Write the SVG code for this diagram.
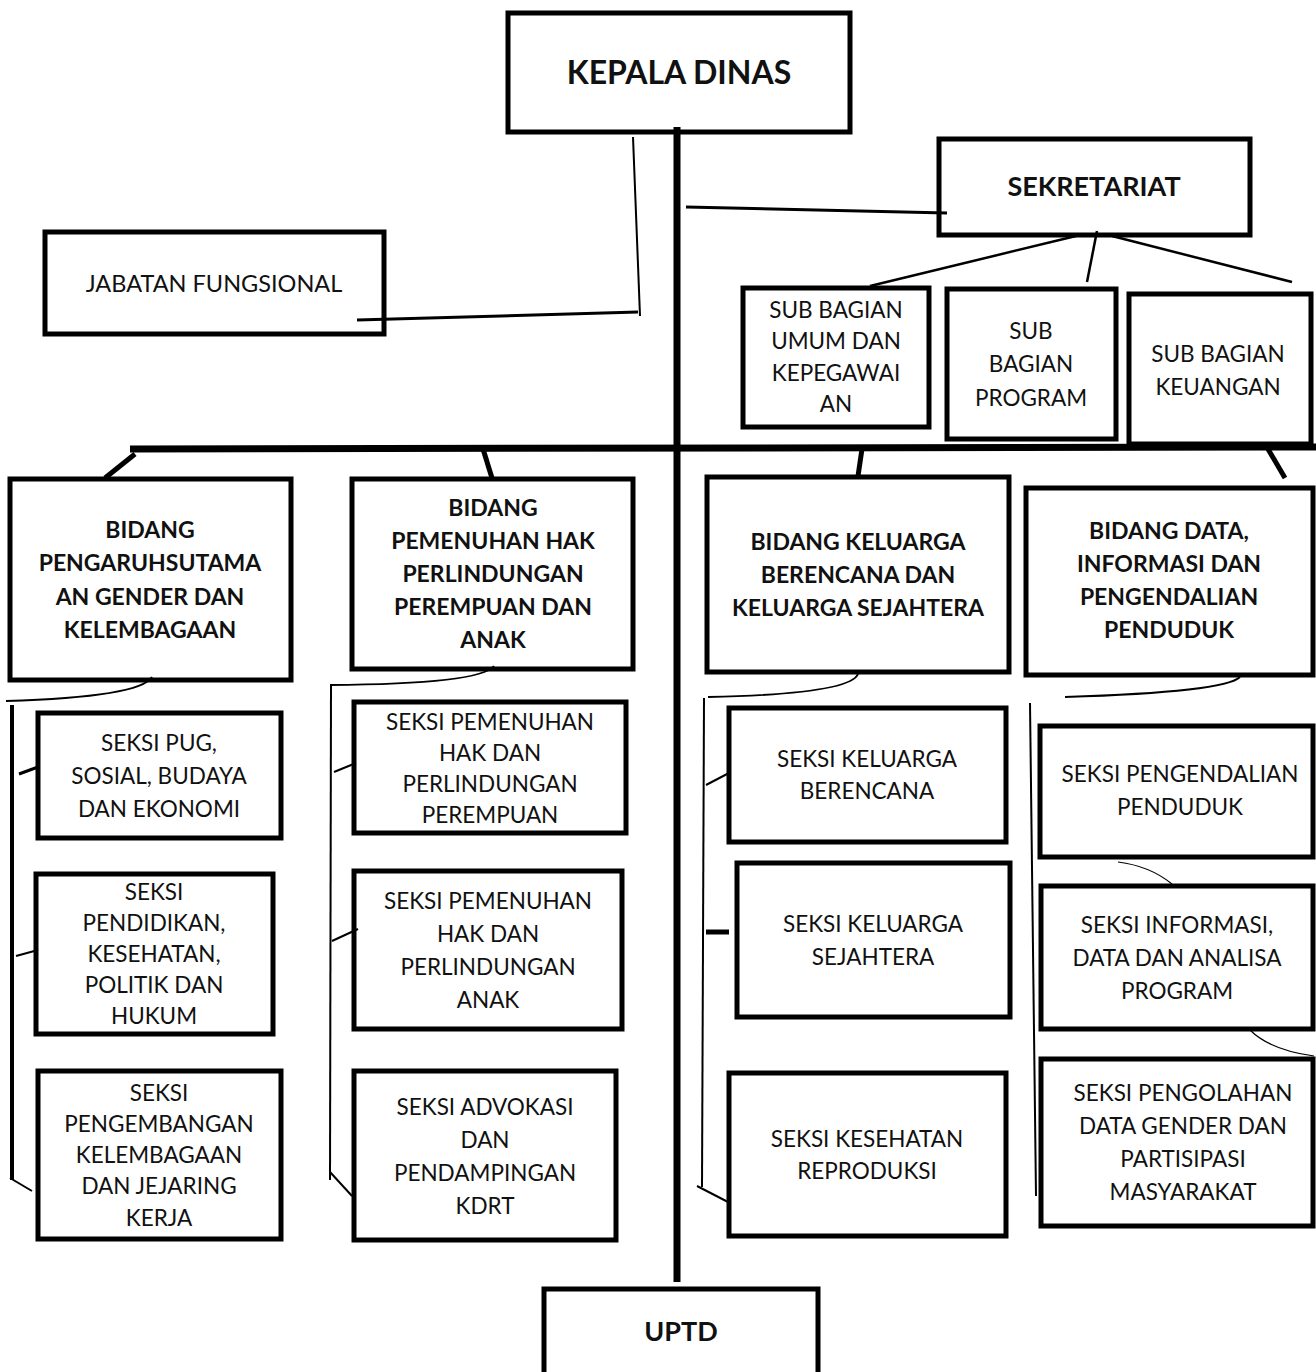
<svg xmlns="http://www.w3.org/2000/svg" width="1316" height="1372" viewBox="0 0 1316 1372">
<style>
.box{fill:#fff;stroke:#000;stroke-width:5}
.t{font-family:Lato,"Open Sans","Liberation Sans",sans-serif;font-size:22.5px;text-anchor:middle;fill:#111}
.b{font-weight:bold;font-size:23px}
.ln{stroke:#000;fill:none;stroke-linecap:butt}
</style>
<rect width="1316" height="1372" fill="#fff"/>
<g id="kepala"><rect class="box" x="508" y="13" width="342" height="119"/><text class="t b" x="679" y="84" style="font-size:32px">KEPALA DINAS</text></g>
<g id="sekretariat"><rect class="box" x="939" y="139" width="311" height="96"/><text class="t b" x="1094" y="196" style="font-size:27px">SEKRETARIAT</text></g>
<g id="jabfung"><rect class="box" x="45" y="232" width="339" height="102"/><text class="t" x="214" y="292" style="font-size:23.5px">JABATAN FUNGSIONAL</text></g>
<g id="sub-umum"><rect class="box" x="743" y="288" width="186" height="139"/>
<text class="t" x="836" y="318">SUB BAGIAN</text><text class="t" x="836" y="349">UMUM DAN</text><text class="t" x="836" y="381">KEPEGAWAI</text><text class="t" x="836" y="412">AN</text></g>
<g id="sub-program"><rect class="box" x="947" y="289" width="169" height="150"/>
<text class="t" x="1031" y="339">SUB</text><text class="t" x="1031" y="372">BAGIAN</text><text class="t" x="1031" y="406">PROGRAM</text></g>
<g id="sub-keuangan"><rect class="box" x="1129" y="294" width="182" height="150"/>
<text class="t" x="1218" y="362">SUB BAGIAN</text><text class="t" x="1218" y="395">KEUANGAN</text></g>
<g id="bidang-pug"><rect class="box" x="10" y="479" width="281" height="201"/>
<text class="t b" x="150" y="538">BIDANG</text><text class="t b" x="150" y="571">PENGARUHSUTAMA</text><text class="t b" x="150" y="605">AN GENDER DAN</text><text class="t b" x="150" y="638">KELEMBAGAAN</text></g>
<g id="bidang-php"><rect class="box" x="352" y="479" width="281" height="190"/>
<text class="t b" x="493" y="516">BIDANG</text><text class="t b" x="493" y="549">PEMENUHAN HAK</text><text class="t b" x="493" y="582">PERLINDUNGAN</text><text class="t b" x="493" y="615">PEREMPUAN DAN</text><text class="t b" x="493" y="648">ANAK</text></g>
<g id="bidang-kb"><rect class="box" x="707" y="477" width="302" height="195"/>
<text class="t b" x="858" y="550">BIDANG KELUARGA</text><text class="t b" x="858" y="583">BERENCANA DAN</text><text class="t b" x="858" y="616">KELUARGA SEJAHTERA</text></g>
<g id="bidang-data"><rect class="box" x="1026" y="488" width="287" height="187"/>
<text class="t b" x="1169" y="539">BIDANG DATA,</text><text class="t b" x="1169" y="572">INFORMASI DAN</text><text class="t b" x="1169" y="605">PENGENDALIAN</text><text class="t b" x="1169" y="638">PENDUDUK</text></g>
<g id="seksi-pug"><rect class="box" x="38" y="713" width="243" height="125"/>
<text class="t" x="159" y="751">SEKSI PUG,</text><text class="t" x="159" y="784">SOSIAL, BUDAYA</text><text class="t" x="159" y="817">DAN EKONOMI</text></g>
<g id="seksi-pendidikan"><rect class="box" x="36" y="874" width="237" height="160"/>
<text class="t" x="154" y="900">SEKSI</text><text class="t" x="154" y="931">PENDIDIKAN,</text><text class="t" x="154" y="962">KESEHATAN,</text><text class="t" x="154" y="993">POLITIK DAN</text><text class="t" x="154" y="1024">HUKUM</text></g>
<g id="seksi-pengembangan"><rect class="box" x="38" y="1071" width="243" height="168"/>
<text class="t" x="159" y="1101">SEKSI</text><text class="t" x="159" y="1132">PENGEMBANGAN</text><text class="t" x="159" y="1163">KELEMBAGAAN</text><text class="t" x="159" y="1194">DAN JEJARING</text><text class="t" x="159" y="1226">KERJA</text></g>
<g id="seksi-php"><rect class="box" x="354" y="702" width="272" height="131"/>
<text class="t" x="490" y="730">SEKSI PEMENUHAN</text><text class="t" x="490" y="761">HAK DAN</text><text class="t" x="490" y="792">PERLINDUNGAN</text><text class="t" x="490" y="823">PEREMPUAN</text></g>
<g id="seksi-pha"><rect class="box" x="354" y="871" width="268" height="158"/>
<text class="t" x="488" y="909">SEKSI PEMENUHAN</text><text class="t" x="488" y="942">HAK DAN</text><text class="t" x="488" y="975">PERLINDUNGAN</text><text class="t" x="488" y="1008">ANAK</text></g>
<g id="seksi-advokasi"><rect class="box" x="354" y="1071" width="262" height="169"/>
<text class="t" x="485" y="1115">SEKSI ADVOKASI</text><text class="t" x="485" y="1148">DAN</text><text class="t" x="485" y="1181">PENDAMPINGAN</text><text class="t" x="485" y="1214">KDRT</text></g>
<g id="seksi-kb"><rect class="box" x="729" y="708" width="277" height="134"/>
<text class="t" x="867" y="767">SEKSI KELUARGA</text><text class="t" x="867" y="799">BERENCANA</text></g>
<g id="seksi-ks"><rect class="box" x="737" y="863" width="273" height="154"/>
<text class="t" x="873" y="932">SEKSI KELUARGA</text><text class="t" x="873" y="965">SEJAHTERA</text></g>
<g id="seksi-kr"><rect class="box" x="729" y="1073" width="277" height="163"/>
<text class="t" x="867" y="1147">SEKSI KESEHATAN</text><text class="t" x="867" y="1179">REPRODUKSI</text></g>
<g id="seksi-pp"><rect class="box" x="1040" y="726" width="273" height="131"/>
<text class="t" x="1180" y="782">SEKSI PENGENDALIAN</text><text class="t" x="1180" y="815">PENDUDUK</text></g>
<g id="seksi-info"><rect class="box" x="1041" y="886" width="272" height="143"/>
<text class="t" x="1177" y="933">SEKSI INFORMASI,</text><text class="t" x="1177" y="966">DATA DAN ANALISA</text><text class="t" x="1177" y="999">PROGRAM</text></g>
<g id="seksi-olah"><rect class="box" x="1041" y="1059" width="272" height="167"/>
<text class="t" x="1183" y="1101">SEKSI PENGOLAHAN</text><text class="t" x="1183" y="1134">DATA GENDER DAN</text><text class="t" x="1183" y="1167">PARTISIPASI</text><text class="t" x="1183" y="1200">MASYARAKAT</text></g>
<g id="uptd"><rect class="box" x="544" y="1289" width="274" height="90"/><text class="t b" x="681" y="1341" style="font-size:27px">UPTD</text></g>
<g id="connectors">
<line class="ln" x1="677" y1="127" x2="677" y2="1282" stroke-width="7"/>
<line class="ln" x1="686" y1="207" x2="947" y2="213" stroke-width="3"/>
<line class="ln" x1="633" y1="137" x2="640" y2="316" stroke-width="2"/>
<line class="ln" x1="357" y1="320" x2="638" y2="312" stroke-width="3"/>
<line class="ln" x1="1076" y1="236" x2="870" y2="286" stroke-width="2.5"/>
<line class="ln" x1="1097" y1="231" x2="1087" y2="282" stroke-width="2.5"/>
<line class="ln" x1="1112" y1="236" x2="1292" y2="282" stroke-width="2.5"/>
<line class="ln" x1="130" y1="449" x2="1316" y2="447" stroke-width="7"/>
<line class="ln" x1="135" y1="454" x2="105" y2="478" stroke-width="5"/>
<line class="ln" x1="483" y1="449" x2="492" y2="478" stroke-width="5"/>
<line class="ln" x1="862" y1="449" x2="858" y2="476" stroke-width="5"/>
<line class="ln" x1="1268" y1="449" x2="1285" y2="478" stroke-width="5"/>
<path class="ln" d="M152,677 Q140,697 6,701" stroke-width="2"/>
<line class="ln" x1="12" y1="705" x2="12" y2="1180" stroke-width="4"/>
<line class="ln" x1="19" y1="774" x2="38" y2="767" stroke-width="3"/>
<line class="ln" x1="16" y1="956" x2="38" y2="950" stroke-width="2"/>
<line class="ln" x1="10" y1="1178" x2="32" y2="1191" stroke-width="2"/>
<path class="ln" d="M494,666 Q480,684 330,685" stroke-width="2"/>
<line class="ln" x1="331" y1="685" x2="330" y2="1180" stroke-width="2"/>
<line class="ln" x1="334" y1="772" x2="356" y2="763" stroke-width="2"/>
<line class="ln" x1="332" y1="941" x2="358" y2="929" stroke-width="2"/>
<line class="ln" x1="330" y1="1172" x2="352" y2="1196" stroke-width="2"/>
<path class="ln" d="M858,674 Q850,694 708,697" stroke-width="2"/>
<line class="ln" x1="704" y1="698" x2="702" y2="1187" stroke-width="2"/>
<line class="ln" x1="706" y1="785" x2="729" y2="773" stroke-width="2"/>
<line class="ln" x1="706" y1="932" x2="729" y2="932" stroke-width="5"/>
<line class="ln" x1="697" y1="1186" x2="728" y2="1202" stroke-width="2"/>
<path class="ln" d="M1240,677 Q1225,692 1065,697" stroke-width="2"/>
<line class="ln" x1="1030" y1="703" x2="1036" y2="1196" stroke-width="2"/>
<path class="ln" d="M1118,862 Q1150,866 1172,884" stroke="#4a6a9a" stroke-width="1.2"/>
<path class="ln" d="M1250,1030 Q1270,1050 1314,1056" stroke="#4a6a9a" stroke-width="1.2"/>
</g>
</svg>
